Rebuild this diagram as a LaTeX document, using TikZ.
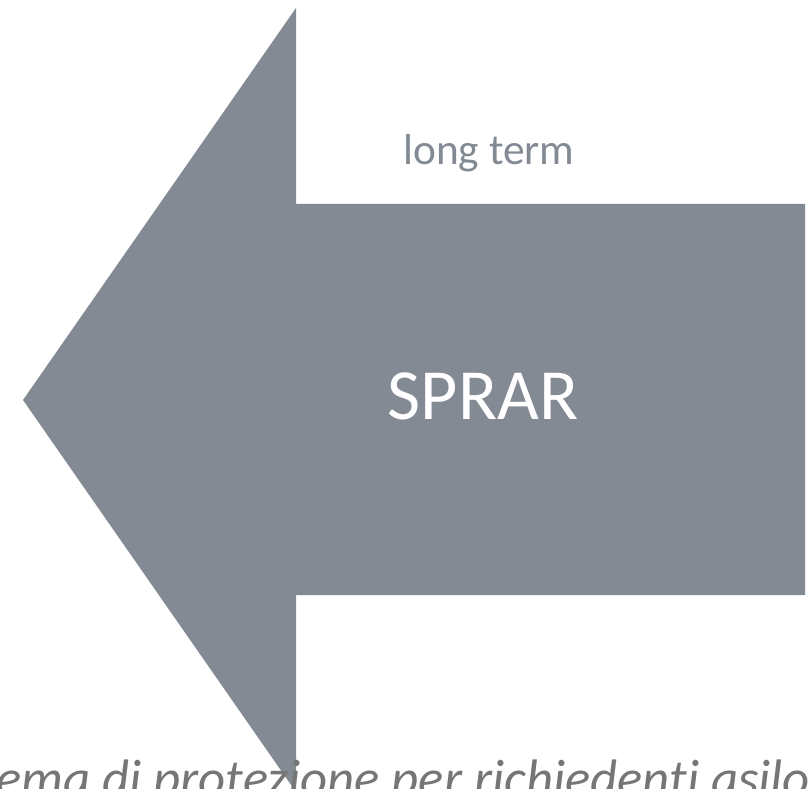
\documentclass[tikz,border=0pt]{standalone}
\usepackage{fontspec}
\setmainfont{Carlito}[Ligatures=NoCommon]
\definecolor{arrowgray}{RGB}{131,138,148}
\definecolor{captiongray}{RGB}{118,118,118}

\begin{document}
\begin{tikzpicture}
        [x=0.03cm,y=-0.03cm,every node/.style={inner sep=0,outer sep=0}]

        \useasboundingbox (0,0) rectangle (808,789);
        \clip (0,0) rectangle (808,789);

        \fill[arrowgray] (23,400) -- (296,8) -- (296,204) -- (805,204)
          -- (805,595) -- (296,595) -- (296,792) -- cycle;

        \node[text=arrowgray,font=\fontsize{37}{44}\selectfont,anchor=base] (term) at (489,165) {long term};
        \node[text=white,font=\fontsize{61.5}{70}\selectfont,anchor=base] (sprar) at (483,419) {SPRAR};
        \node[text=captiongray,font=\fontsize{45}{54}\selectfont\itshape,anchor=base east] (caption) at (810,796) {ema di protezione per richiedenti asilo};
      \end{tikzpicture}
\end{document}
